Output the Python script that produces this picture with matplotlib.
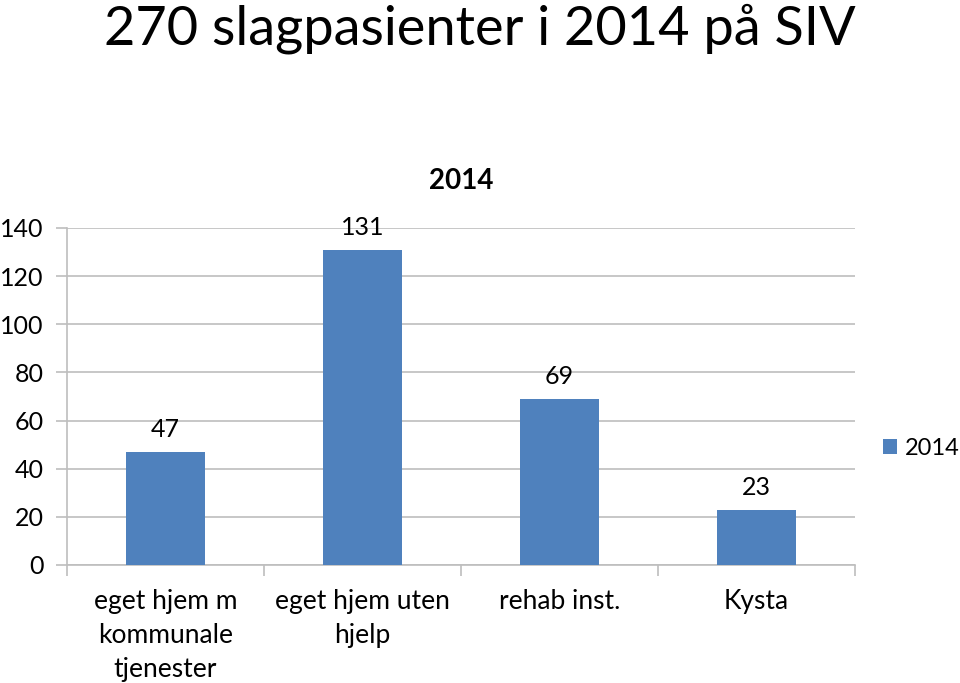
import matplotlib.pyplot as plt
import numpy as np

plt.rcParams['font.family'] = ['Lato', 'DejaVu Sans']

categories = ['eget hjem m\nkommunale\ntjenester', 'eget hjem uten\nhjelp', 'rehab inst.', 'Kysta']
values = [47, 131, 69, 23]
series_name = '2014'
yticks = [0, 20, 40, 60, 80, 100, 120, 140]

bar_color = '#4F81BD'
grid_color = '#BEBEBE'

fig = plt.figure(figsize=(9.6, 6.83), dpi=100)
ax = fig.add_axes([0.0698, 0.1728, 0.8208, 0.4934])

x = np.arange(len(categories))
bars = ax.bar(x, values, width=0.4, color=bar_color, label=series_name, zorder=3)

for xi, v in zip(x, values):
    ax.annotate(str(v), (xi, v), xytext=(0, 8), textcoords='offset points',
                ha='center', va='bottom', fontsize=18)

ax.set_xlim(-0.5, len(categories) - 0.5)
ax.set_ylim(0, 140)
ax.set_yticks(yticks)
ax.yaxis.grid(True, color=grid_color, linewidth=1.2, zorder=0)
ax.tick_params(axis='y', length=8, width=1.2, color=grid_color, labelsize=18, pad=9)

# category boundaries as tick marks, labels in the middle
ax.set_xticks(np.arange(-0.5, len(categories), 1.0))
ax.set_xticklabels([])
ax.set_xticks(x, minor=True)
ax.set_xticklabels(categories, minor=True, fontsize=19, linespacing=1.45)
ax.tick_params(axis='x', which='major', length=8, width=1.2, color=grid_color)
ax.tick_params(axis='x', which='minor', length=0, pad=17)

for s in ['top', 'right']:
    ax.spines[s].set_visible(False)
ax.spines['left'].set_color(grid_color)
ax.spines['bottom'].set_color(grid_color)
ax.spines['left'].set_linewidth(1.2)
ax.spines['bottom'].set_linewidth(1.2)

ax.set_title('2014', fontsize=20, fontweight='bold', pad=28)

fig.text(0.5, 0.958, '270 slagpasienter i 2014 på SIV', ha='center', va='center', fontsize=39)

ax.legend(loc='center left', bbox_to_anchor=(1.014, 0.345), frameon=False,
          fontsize=17, handlelength=0.6, handleheight=0.6, handletextpad=0.35,
          borderaxespad=0.3)

fig.savefig('out.png', dpi=100)
